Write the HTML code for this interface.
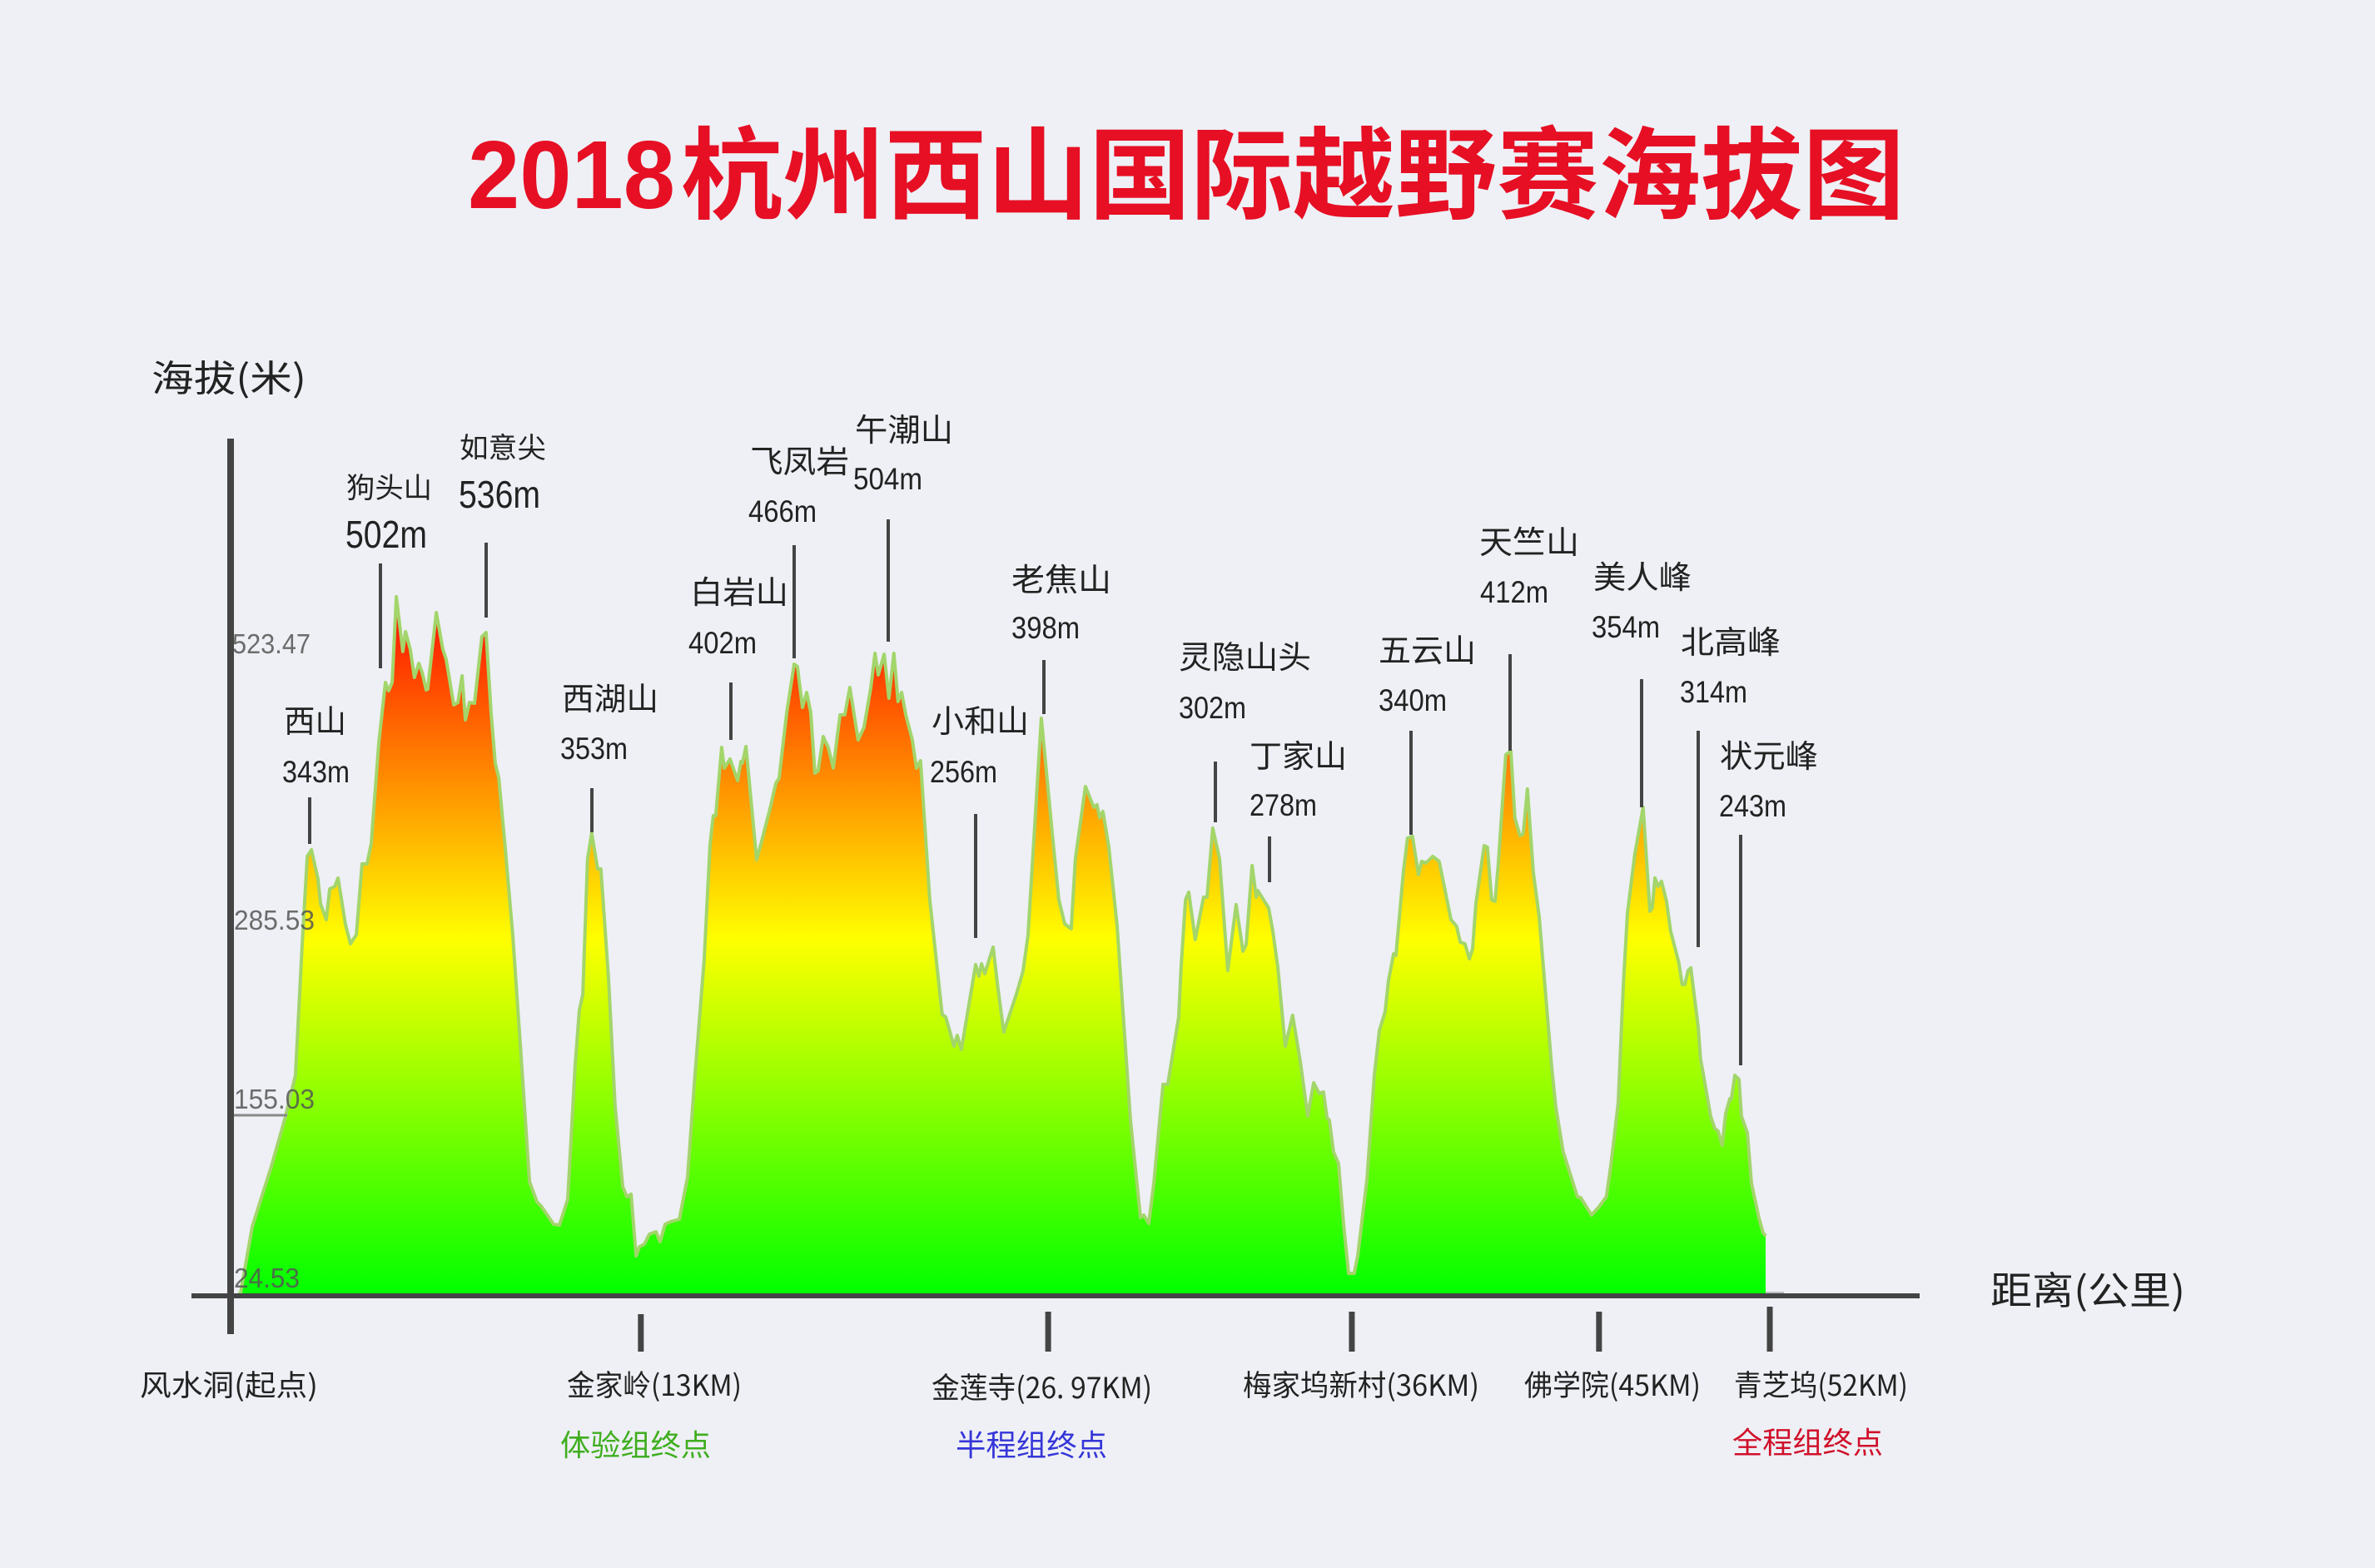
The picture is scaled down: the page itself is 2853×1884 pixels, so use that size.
<!DOCTYPE html>
<html lang="zh">
<head>
<meta charset="utf-8">
<title>2018杭州西山国际越野赛海拔图</title>
<style>
html,body{margin:0;padding:0;background:#eef0f5;}
svg{display:block;}
text{font-family:"Liberation Sans","Noto Sans CJK SC",sans-serif;}
.cjk{font-family:"Noto Sans CJK SC","Liberation Sans",sans-serif;}
.name{font-size:38px;fill:#222;}
.val{font-size:37px;fill:#222;}
.big{font-size:46px;fill:#222;}
.cp{font-size:35px;fill:#222;}
.tk{font-size:33px;fill:#555;opacity:.85;}
.ld{stroke:#444;stroke-width:4;}
</style>
</head>
<body>
<svg id="chart" xmlns="http://www.w3.org/2000/svg" width="2853" height="1884" viewBox="0 0 2853 1884">
<defs>
<linearGradient id="elevGrad" gradientUnits="userSpaceOnUse" x1="0" y1="1557" x2="0" y2="700">
<stop offset="0" stop-color="#00ff00"/>
<stop offset="0.5" stop-color="#ffff00"/>
<stop offset="1" stop-color="#ff0000"/>
</linearGradient>
</defs>
<rect x="0" y="0" width="2853" height="1884" fill="#eef0f5"/>
<text x="562" y="250" font-size="116" font-weight="700" fill="#e60f24" textLength="249" lengthAdjust="spacingAndGlyphs">2018</text>
<text class="cjk" x="818" y="253" font-size="120" font-weight="700" fill="#e60f24" textLength="1470" lengthAdjust="spacingAndGlyphs">杭州西山国际越野赛海拔图</text>
<text class="cjk" x="182" y="470" font-size="44" fill="#222" textLength="186" lengthAdjust="spacingAndGlyphs">海拔(米)</text>
<text class="cjk" x="2391" y="1567" font-size="46" fill="#222" textLength="234" lengthAdjust="spacingAndGlyphs">距离(公里)</text>

<g id="profile"></g>

<g>
<text class="tk" x="279" y="785" textLength="94" lengthAdjust="spacingAndGlyphs">523.47</text>
<text class="tk" x="281" y="1117" textLength="97" lengthAdjust="spacingAndGlyphs">285.53</text>
<text class="tk" x="281" y="1332" textLength="97" lengthAdjust="spacingAndGlyphs">155.03</text>
<text class="tk" x="281" y="1547" textLength="79" lengthAdjust="spacingAndGlyphs">24.53</text>
<line x1="281" y1="1340" x2="345" y2="1340" stroke="#888" stroke-width="3"/>
</g>

<line x1="277" y1="527" x2="277" y2="1603" stroke="#444" stroke-width="8"/>
<line x1="230" y1="1557" x2="2306" y2="1557" stroke="#444" stroke-width="6"/>
<line x1="2121" y1="1553" x2="2143" y2="1553" stroke="#b9bcc0" stroke-width="2"/>
<g id="ticks"></g>

<g>
<text class="cjk cp" x="168" y="1677" textLength="214" lengthAdjust="spacingAndGlyphs">风水洞(起点)</text>
<text class="cjk cp" x="681" y="1677" textLength="210" lengthAdjust="spacingAndGlyphs">金家岭(13KM)</text>
<text class="cjk cp" x="1119" y="1680" textLength="265" lengthAdjust="spacingAndGlyphs">金莲寺(26. 97KM)</text>
<text class="cjk cp" x="1493" y="1677" textLength="284" lengthAdjust="spacingAndGlyphs">梅家坞新村(36KM)</text>
<text class="cjk cp" x="1831" y="1677" textLength="212" lengthAdjust="spacingAndGlyphs">佛学院(45KM)</text>
<text class="cjk cp" x="2083" y="1677" textLength="209" lengthAdjust="spacingAndGlyphs">青芝坞(52KM)</text>
<text class="cjk" x="673" y="1749" font-size="36" fill="#3fae1f" textLength="181" lengthAdjust="spacingAndGlyphs">体验组终点</text>
<text class="cjk" x="1148" y="1749" font-size="36" fill="#3535d8" textLength="182" lengthAdjust="spacingAndGlyphs">半程组终点</text>
<text class="cjk" x="2081" y="1746" font-size="36" fill="#d0102a" textLength="181" lengthAdjust="spacingAndGlyphs">全程组终点</text>
</g>

<g>
<text class="cjk name" x="341" y="880" textLength="75" lengthAdjust="spacingAndGlyphs">西山</text>
<text class="val" x="339" y="940" textLength="81" lengthAdjust="spacingAndGlyphs">343m</text>
<line class="ld" x1="372" y1="958" x2="372" y2="1014"/>

<text class="cjk" font-size="34" fill="#222" x="416" y="598" textLength="103" lengthAdjust="spacingAndGlyphs">狗头山</text>
<text class="big" x="415" y="658" textLength="98" lengthAdjust="spacingAndGlyphs">502m</text>
<line class="ld" x1="457" y1="677" x2="457" y2="803"/>

<text class="cjk" font-size="34" fill="#222" x="552" y="550" textLength="104" lengthAdjust="spacingAndGlyphs">如意尖</text>
<text class="big" x="551" y="610" textLength="98" lengthAdjust="spacingAndGlyphs">536m</text>
<line class="ld" x1="584" y1="652" x2="584" y2="742"/>

<text class="cjk name" x="675" y="853" textLength="116" lengthAdjust="spacingAndGlyphs">西湖山</text>
<text class="val" x="673" y="912" textLength="81" lengthAdjust="spacingAndGlyphs">353m</text>
<line class="ld" x1="711" y1="947" x2="711" y2="1000"/>

<text class="cjk name" x="829" y="725" textLength="118" lengthAdjust="spacingAndGlyphs">白岩山</text>
<text class="val" x="827" y="785" textLength="82" lengthAdjust="spacingAndGlyphs">402m</text>
<line class="ld" x1="878" y1="820" x2="878" y2="889"/>

<text class="cjk name" x="901" y="568" textLength="119" lengthAdjust="spacingAndGlyphs">飞凤岩</text>
<text class="val" x="899" y="627" textLength="82" lengthAdjust="spacingAndGlyphs">466m</text>
<line class="ld" x1="954" y1="655" x2="954" y2="791"/>

<text class="cjk name" x="1027" y="530" textLength="118" lengthAdjust="spacingAndGlyphs">午潮山</text>
<text class="val" x="1025" y="588" textLength="83" lengthAdjust="spacingAndGlyphs">504m</text>
<line class="ld" x1="1067" y1="624" x2="1067" y2="771"/>

<text class="cjk name" x="1119" y="880" textLength="117" lengthAdjust="spacingAndGlyphs">小和山</text>
<text class="val" x="1117" y="940" textLength="81" lengthAdjust="spacingAndGlyphs">256m</text>
<line class="ld" x1="1172" y1="978" x2="1172" y2="1127"/>

<text class="cjk name" x="1215" y="710" textLength="120" lengthAdjust="spacingAndGlyphs">老焦山</text>
<text class="val" x="1215" y="767" textLength="82" lengthAdjust="spacingAndGlyphs">398m</text>
<line class="ld" x1="1254" y1="793" x2="1254" y2="858"/>

<text class="cjk name" x="1416" y="803" textLength="159" lengthAdjust="spacingAndGlyphs">灵隐山头</text>
<text class="val" x="1416" y="863" textLength="81" lengthAdjust="spacingAndGlyphs">302m</text>
<line class="ld" x1="1460" y1="915" x2="1460" y2="988"/>

<text class="cjk name" x="1501" y="922" textLength="117" lengthAdjust="spacingAndGlyphs">丁家山</text>
<text class="val" x="1501" y="980" textLength="81" lengthAdjust="spacingAndGlyphs">278m</text>
<line class="ld" x1="1525" y1="1005" x2="1525" y2="1060"/>

<text class="cjk name" x="1656" y="795" textLength="117" lengthAdjust="spacingAndGlyphs">五云山</text>
<text class="val" x="1656" y="854" textLength="82" lengthAdjust="spacingAndGlyphs">340m</text>
<line class="ld" x1="1695" y1="878" x2="1695" y2="1003"/>

<text class="cjk name" x="1777" y="665" textLength="120" lengthAdjust="spacingAndGlyphs">天竺山</text>
<text class="val" x="1778" y="724" textLength="82" lengthAdjust="spacingAndGlyphs">412m</text>
<line class="ld" x1="1814" y1="786" x2="1814" y2="902"/>

<text class="cjk name" x="1914" y="707" textLength="118" lengthAdjust="spacingAndGlyphs">美人峰</text>
<text class="val" x="1912" y="766" textLength="82" lengthAdjust="spacingAndGlyphs">354m</text>
<line class="ld" x1="1972" y1="816" x2="1972" y2="970"/>

<text class="cjk name" x="2019" y="785" textLength="120" lengthAdjust="spacingAndGlyphs">北高峰</text>
<text class="val" x="2018" y="844" textLength="81" lengthAdjust="spacingAndGlyphs">314m</text>
<line class="ld" x1="2040" y1="878" x2="2040" y2="1138"/>

<text class="cjk name" x="2066" y="922" textLength="118" lengthAdjust="spacingAndGlyphs">状元峰</text>
<text class="val" x="2065" y="981" textLength="81" lengthAdjust="spacingAndGlyphs">243m</text>
<line class="ld" x1="2091" y1="1003" x2="2091" y2="1280"/>
</g>
</svg>

<script>
const distanceKm = [0.2,0.34,0.73,1.38,1.86,2.19,2.42,2.59,2.73,2.95,3.04,3.23,3.35,3.52,3.63,3.88,4.05,4.25,4.44,4.61,4.75,5.01,5.23,5.34,5.46,5.6,5.82,5.91,6.07,6.21,6.36,6.47,6.61,6.66,6.95,7.17,7.28,7.54,7.68,7.82,7.93,8.07,8.24,8.49,8.63,8.8,8.94,9.06,9.28,9.53,9.79,10.1,10.35,10.49,10.91,11.11,11.39,11.64,11.78,11.9,12.06,12.2,12.4,12.51,12.77,12.99,13.25,13.39,13.53,13.7,13.81,13.98,14.15,14.37,14.51,14.68,14.85,15.16,15.44,15.66,16,16.2,16.31,16.39,16.59,16.68,16.87,17.13,17.24,17.29,17.41,17.77,17.94,18.25,18.42,18.53,18.79,19.04,19.15,19.32,19.46,19.6,19.74,19.85,20.02,20.19,20.36,20.59,20.75,20.92,21.2,21.4,21.63,21.77,21.88,22.08,22.24,22.41,22.55,22.67,22.81,23.03,23.17,23.31,23.62,24.04,24.16,24.44,24.55,24.69,25.17,25.28,25.37,25.48,25.76,25.93,26.12,26.55,26.77,26.94,27.39,27.76,27.98,28.18,28.4,28.54,28.88,29.16,29.27,29.36,29.47,29.67,29.95,30.17,30.4,30.74,30.85,31.02,31.19,31.5,31.66,32.03,32.11,32.26,32.37,32.59,32.87,32.99,33.18,33.41,33.69,33.97,34.2,34.31,34.51,34.65,34.7,35.07,35.21,35.38,35.63,35.88,36.14,36.39,36.59,36.78,36.92,37.04,37.12,37.26,37.43,37.6,37.77,37.96,38.08,38.39,38.64,38.81,39,39.12,39.29,39.37,39.62,39.76,39.93,40.13,40.24,40.38,40.61,40.83,41.23,41.42,41.54,41.7,41.85,41.96,42.07,42.35,42.46,42.6,42.72,42.83,43.08,43.25,43.39,43.56,43.67,43.81,44.01,44.21,44.63,44.77,45.02,45.5,45.61,45.98,46.23,46.48,46.63,46.88,47.05,47.19,47.44,47.72,47.95,48.03,48.12,48.23,48.34,48.51,48.65,48.82,48.93,49.04,49.13,49.24,49.33,49.58,49.66,49.75,50,50.14,50.25,50.39,50.51,50.65,50.7,50.82,50.96,51.04,51.24,51.38,51.63,51.77,51.86];
const elevationM = [0,2.5,51.9,97.5,135,165.6,263.8,330,335,313.1,294.4,282.5,305.6,307.5,313.8,278.8,264.4,271.3,324.4,324.4,339.4,415.6,460.6,454.4,460.6,525,483.8,498.8,485.6,464.4,475,468.1,455,455.6,513.1,485.6,478.1,443.8,445.6,465.6,432.5,445.6,445,495,498.1,438.1,400,388.8,335.6,271.3,188.1,85.6,70.6,67.5,53.8,53.1,72.5,173.1,214.4,226.3,328.1,347.5,320.6,320.6,237.5,142.5,81.9,74.4,76.3,30,36.9,38.8,46.3,48.1,40.6,53.8,55.6,57.5,89.4,157.5,252.5,339.4,360.6,360.6,411.9,396.3,403.1,386.9,401.3,400,412.5,327.5,341.3,368.1,385,388.8,438.1,474.4,472.5,441.9,453.1,438.1,392.5,394.4,420,411.9,396.3,436.3,436.3,456.9,417.5,426.9,456.9,482.5,466.3,481.9,448.8,482.5,446.3,453.1,436.3,417.5,396.3,401.9,297.5,211.3,209.4,187.5,195.6,185,248.8,240,249.4,241.9,261.9,230,198.1,226.9,243.8,270.6,433.8,346.9,297.5,279.4,275.6,328.1,382.5,366.9,368.8,358.8,363.8,336.9,277.5,206.3,131.9,58.8,60.6,54.4,84.4,158.8,158.8,209.4,246.9,297.5,303.1,267.5,299.4,299.4,351.3,328.1,244.4,293.8,258.8,263.8,323.1,299.4,304.4,291.3,273.8,246.9,187.5,210.6,175.6,135,160,151.9,153.1,133.8,131.9,108.1,99.4,53.8,16.9,16.9,30,87.5,165.6,199.4,213.1,236.9,256.9,255.6,318.1,343.8,345,316.3,326.3,325,330,326.3,282.5,277.5,265.6,264.4,253.1,260.6,294.4,338.1,336.9,297.5,296.3,325,406.3,409.4,358.8,345.6,346.9,380.6,318.1,284.4,172.5,141.9,108.1,74.4,73.8,60.6,66.9,74.4,98.1,145,233.1,287.5,331.9,366.9,288.8,291.3,313.8,307.5,311.3,296.3,273.8,259.4,250,233.8,233.8,244.4,246.3,201.9,178.1,166.9,135,125.6,123.8,113.1,136.9,148.1,147.5,165.6,162.5,135,122.5,84.4,58.8,47.5,45];
const checkpointKm = [0,13.86,27.62,37.88,46.23,52];
const checkpointNames = ['start','jinjialing','jinliansi','meijiawu','foxueyuan','qingzhiwu'];

const NS = 'http://www.w3.org/2000/svg';
const plotLeft = 277, plotRight = 2126, plotBottom = 1557;
function xScale(km){ return plotLeft + km * (plotRight - plotLeft) / 52; }
function yScale(m){ return plotBottom - m * 1.6; }

const line = distanceKm.map(function(km,i){
  return (i ? 'L' : 'M') + xScale(km).toFixed(1) + ' ' + yScale(elevationM[i]).toFixed(1);
}).join(' ');
const lastKm = distanceKm[distanceKm.length - 1];

const area = document.createElementNS(NS,'path');


area.setAttribute('d', line + ' L' + xScale(lastKm).toFixed(1) + ' ' + yScale(0) + ' Z');
area.setAttribute('fill', 'url(#elevGrad)');
document.getElementById('profile').appendChild(area);

const edge = document.createElementNS(NS,'path');


edge.setAttribute('d', line);
edge.setAttribute('fill', 'none');
edge.setAttribute('stroke', '#a3d56b');
edge.setAttribute('stroke-width', '4');
edge.setAttribute('stroke-linejoin', 'round');
document.getElementById('profile').appendChild(edge);

checkpointKm.forEach(function(km,i){
  if (i === 0) return;
  const t = document.createElementNS(NS,'line');
  
  
  const x = xScale(km);
  t.setAttribute('x1', x);
  t.setAttribute('x2', x);
  t.setAttribute('y1', km >= 52 ? 1570 : (km < 20 ? 1579 : 1576));
  t.setAttribute('y2', 1624);
  t.setAttribute('stroke', '#444');
  t.setAttribute('stroke-width', '7');
  document.getElementById('ticks').appendChild(t);
});
</script>
</body>
</html>
